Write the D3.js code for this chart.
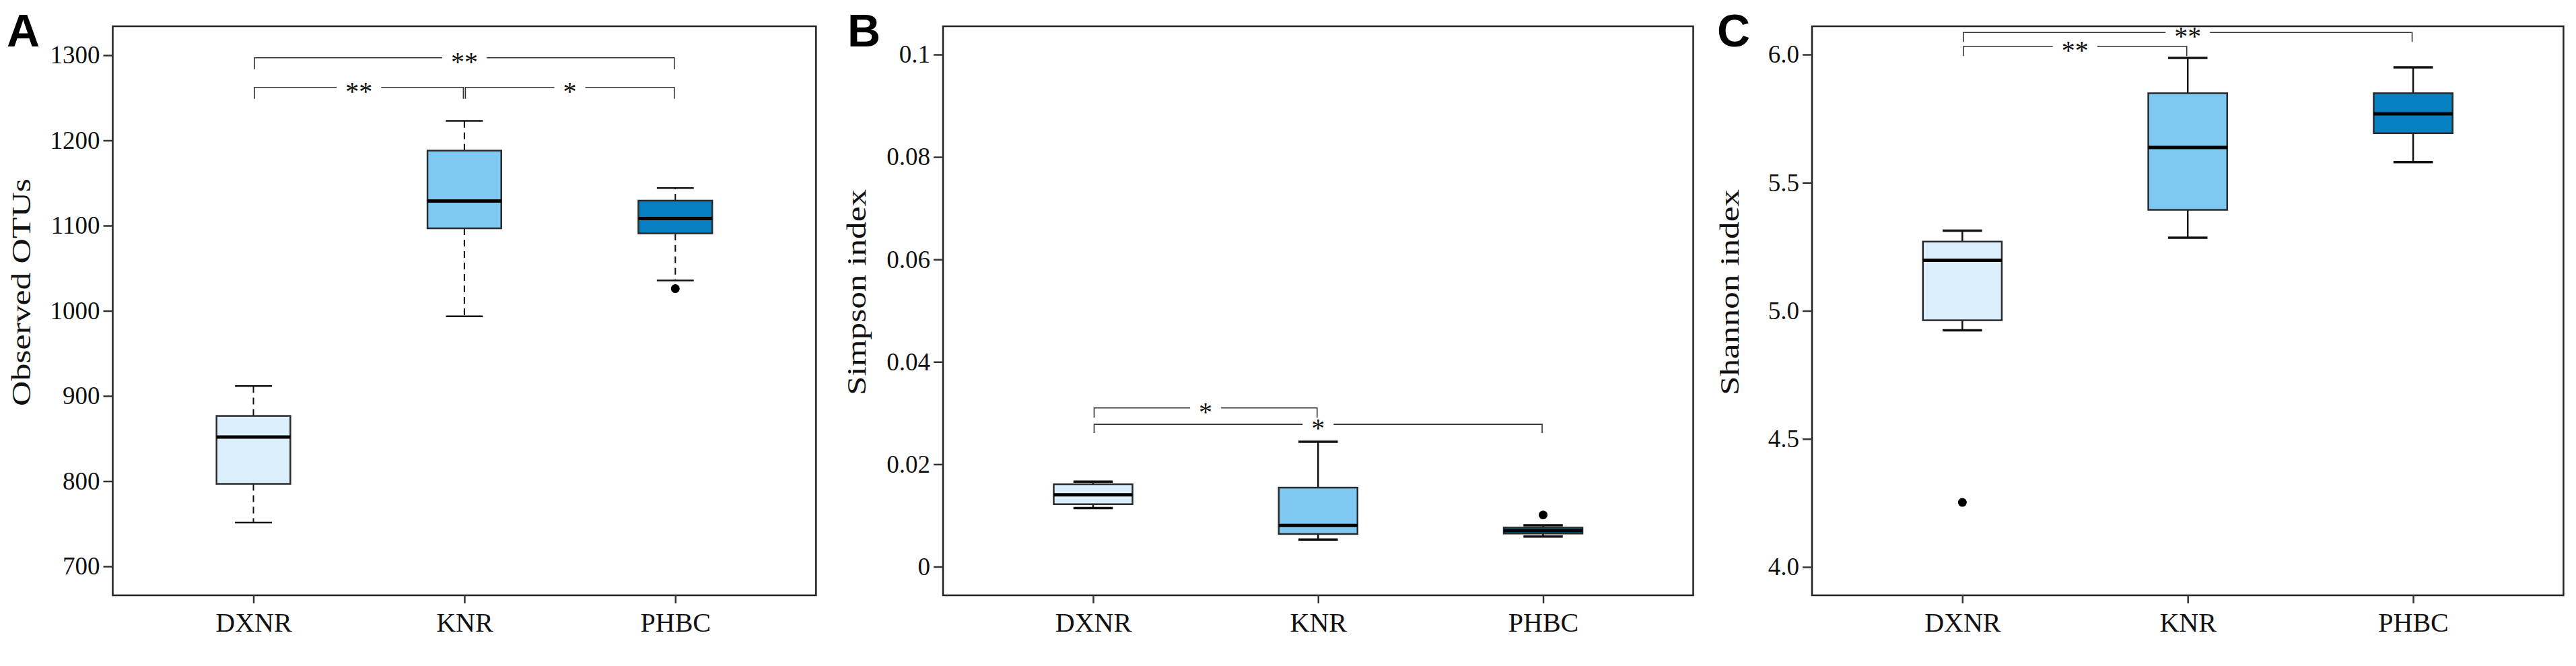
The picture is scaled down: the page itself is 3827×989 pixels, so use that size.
<!DOCTYPE html>
<html><head><meta charset="utf-8">
<script src="https://cdn.jsdelivr.net/npm/d3@7"></script>
<style>body{margin:0;background:#fff}</style>
</head><body>
<svg id="c" width="3827" height="989" xmlns="http://www.w3.org/2000/svg"></svg>
<script>
// ---------- data ----------
const categories = ["DXNR", "KNR", "PHBC"];
const fills = ["#dbeefb", "#7ec8f2", "#0780c2"];

// Panel A: Observed OTUs  [lowWhisker, Q1, median, Q3, highWhisker]
const otusTicks = [700, 800, 900, 1000, 1100, 1200, 1300];
const otusTickLabels = ["700", "800", "900", "1000", "1100", "1200", "1300"];
const otusStats = [
  [751.4, 796.8, 851.7, 876.6, 911.6],
  [993.5, 1096.8, 1128.8, 1188.0, 1223.0],
  [1035.5, 1090.8, 1108.3, 1129.3, 1144.0]
];
const otusOutliers = [[], [], [1026]];
// [from, to, label, bracketLevel, tipEnd]
const otusSig = [
  ["DXNR", "PHBC", "**", 1297, 1283.6],
  ["DXNR", "KNR", "**", 1262.3, 1248.9],
  ["KNR", "PHBC", "*", 1262.3, 1248.9]
];

// Panel B: Simpson index
const simpsonTicks = [0, 0.02, 0.04, 0.06, 0.08, 0.1];
const simpsonTickLabels = ["0", "0.02", "0.04", "0.06", "0.08", "0.1"];
const simpsonStats = [
  [0.01145, 0.0122, 0.01403, 0.0161, 0.0166],
  [0.0053, 0.00638, 0.00805, 0.01544, 0.0244],
  [0.00588, 0.00647, 0.00705, 0.00763, 0.0081]
];
const simpsonOutliers = [[], [], [0.0101]];
const simpsonSig = [
  ["DXNR", "KNR", "*", 0.0310, 0.0291],
  ["DXNR", "PHBC", "*", 0.0278, 0.0261]
];

// Panel C: Shannon index
const shannonTicks = [4.0, 4.5, 5.0, 5.5, 6.0];
const shannonTickLabels = ["4.0", "4.5", "5.0", "5.5", "6.0"];
const shannonStats = [
  [4.924, 4.963, 5.197, 5.270, 5.313],
  [5.285, 5.394, 5.637, 5.849, 5.987],
  [5.580, 5.693, 5.769, 5.849, 5.950]
];
const shannonOutliers = [[4.252], [], []];
const shannonSig = [
  ["DXNR", "PHBC", "**", 6.086, 6.049],
  ["DXNR", "KNR", "**", 6.0315, 5.994]
];

// ---------- drawing ----------
const serif = "'Liberation Serif','Times New Roman',Times,serif";
const sans = "'Liberation Sans',Arial,Helvetica,sans-serif";
const svg = d3.select("#c");

function panel(cfg, stats, outliers, sig, ticks, tickLabels) {
  const g = svg.append("g");
  const x = d3.scalePoint().domain(categories).range([cfg.left, cfg.right]).padding(0.667);
  const y = d3.scaleLinear().domain([ticks[0], ticks[ticks.length - 1]]).range(cfg.yRange);
  const bw = x.step() * 0.35;

  // frame
  g.append("rect")
    .attr("x", cfg.left).attr("y", cfg.top)
    .attr("width", cfg.right - cfg.left).attr("height", cfg.bottom - cfg.top)
    .attr("fill", "none").attr("stroke", "#222").attr("stroke-width", 2.5);

  // y axis
  const ya = g.append("g").attr("transform", `translate(${cfg.left},0)`)
    .call(d3.axisLeft(y).tickValues(ticks).tickFormat((d, i) => tickLabels[i]).tickSize(14).tickPadding(5));
  ya.select(".domain").remove();
  ya.selectAll("line").attr("stroke", "#333").attr("stroke-width", 2.5);
  ya.selectAll("text").attr("font-family", serif).attr("font-size", 37).attr("fill", "#111");

  // x axis
  const xa = g.append("g").attr("transform", `translate(0,${cfg.bottom})`)
    .call(d3.axisBottom(x).tickSize(12).tickPadding(14));
  xa.select(".domain").remove();
  xa.selectAll("line").attr("stroke", "#333").attr("stroke-width", 2.5);
  xa.selectAll("text").attr("font-family", serif).attr("font-size", 40).attr("fill", "#111");

  // boxes
  categories.forEach((c, i) => {
    const [lo, q1, med, q3, hi] = stats[i];
    const cx = x(c);
    const wg = g.append("g");
    [[q3, hi], [q1, lo]].forEach(([a, b]) => {
      wg.append("line").attr("x1", cx).attr("x2", cx).attr("y1", y(a)).attr("y2", y(b))
        .attr("stroke", "#111").attr("stroke-width", cfg.dashed ? 2 : 2.5)
        .attr("stroke-dasharray", cfg.dashed ? "10,7" : null);
      wg.append("line").attr("x1", cx - bw / 4).attr("x2", cx + bw / 4).attr("y1", y(b)).attr("y2", y(b))
        .attr("stroke", "#111").attr("stroke-width", cfg.dashed ? 2.5 : 3.5);
    });
    wg.append("rect").attr("x", cx - bw / 2).attr("y", y(q3))
      .attr("width", bw).attr("height", y(q1) - y(q3))
      .attr("fill", fills[i]).attr("stroke", "#2a2a2a").attr("stroke-width", 2.5);
    wg.append("line").attr("x1", cx - bw / 2).attr("x2", cx + bw / 2).attr("y1", y(med)).attr("y2", y(med))
      .attr("stroke", "#000").attr("stroke-width", 5);
    outliers[i].forEach(v => {
      wg.append("circle").attr("cx", cx).attr("cy", y(v)).attr("r", 6.5).attr("fill", "#000");
    });
  });

  // significance brackets
  sig.forEach(([a, b, lab, lvl, tip]) => {
    const x1 = x(a) + 1.5, x2 = x(b) - 1.5, mid = (x(a) + x(b)) / 2;
    const gap = 26 + 20 * lab.length;
    const ly = y(lvl), ty = y(tip);
    g.append("path")
      .attr("d", `M${x1},${ty}V${ly}H${mid - gap / 2}M${mid + gap / 2},${ly}H${x2}V${ty}`)
      .attr("fill", "none").attr("stroke", "#333").attr("stroke-width", 1.6);
    g.append("text").attr("x", mid).attr("y", ly + 19).attr("text-anchor", "middle")
      .attr("font-family", serif).attr("font-size", 40).attr("fill", "#111").text(lab);
  });

  // y title
  g.append("text")
    .attr("transform", `translate(${cfg.titleX},${cfg.titleY}) rotate(-90)`)
    .attr("text-anchor", "middle").attr("font-family", serif).attr("font-size", 40).attr("fill", "#111")
    .attr("textLength", cfg.titleLen).attr("lengthAdjust", "spacingAndGlyphs")
    .text(cfg.title);

  // panel letter
  g.append("text").attr("x", cfg.letterX).attr("y", 69)
    .attr("font-family", sans).attr("font-weight", "bold").attr("font-size", 68).attr("fill", "#000")
    .text(cfg.letter);
}

panel({left: 167.5, right: 1212.3, top: 39, bottom: 884, yRange: [841, 82], dashed: true,
       title: "Observed OTUs", titleX: 45, titleY: 434, titleLen: 338, letter: "A", letterX: 10},
      otusStats, otusOutliers, otusSig, otusTicks, otusTickLabels);
panel({left: 1401, right: 2515.5, top: 39, bottom: 884, yRange: [841.5, 81], dashed: false,
       title: "Simpson index", titleX: 1286, titleY: 434, titleLen: 306, letter: "B", letterX: 1259},
      simpsonStats, simpsonOutliers, simpsonSig, simpsonTicks, simpsonTickLabels);
panel({left: 2692, right: 3808.4, top: 39, bottom: 884, yRange: [842, 81], dashed: false,
       title: "Shannon index", titleX: 2583, titleY: 434, titleLen: 306, letter: "C", letterX: 2551},
      shannonStats, shannonOutliers, shannonSig, shannonTicks, shannonTickLabels);
</script>
</body></html>
